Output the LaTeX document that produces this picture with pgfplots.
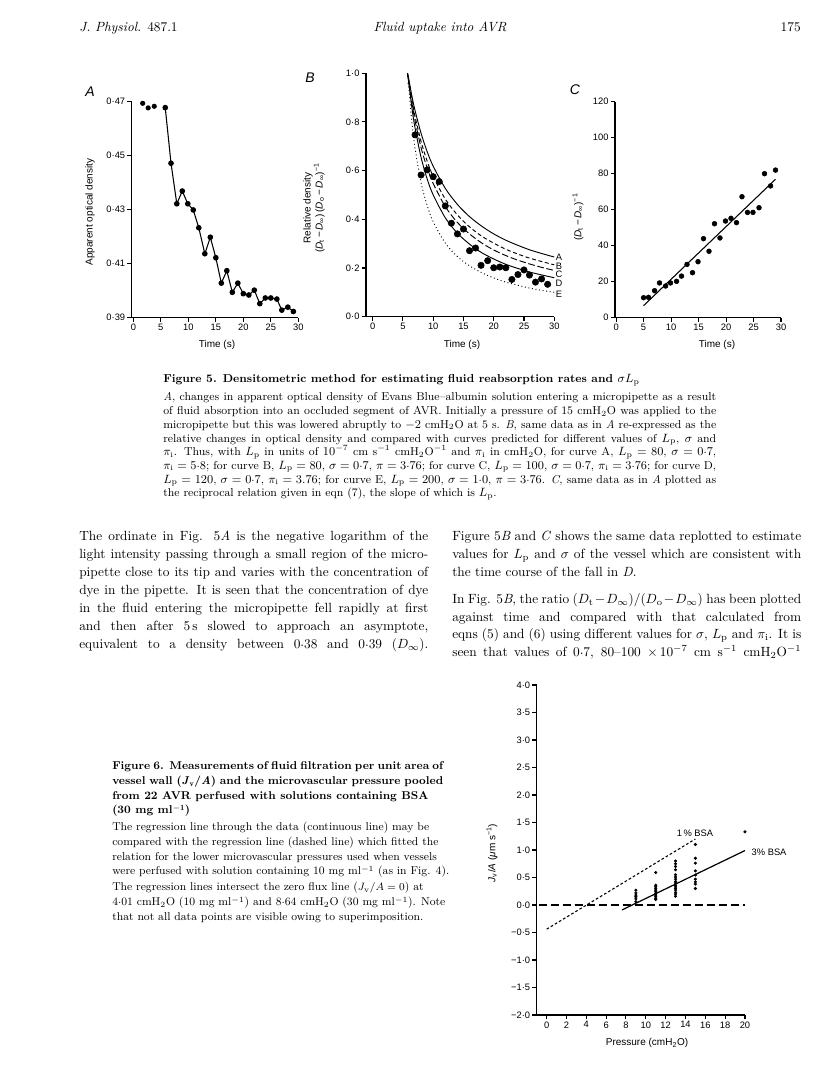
\documentclass[border=0pt]{standalone}
\usepackage{fontspec}
\newfontfamily\hv{Liberation Sans}
\usepackage{pgfplots}
\pgfplotsset{compat=1.18}
\def\body{\fontsize{10}{12}\selectfont}
\def\capf{\fontsize{8.6}{10}\selectfont}
\def\cappf{\fontsize{8.5}{10}\selectfont}
\def\tlf{\hv\fontsize{7}{8}\selectfont}
\def\lbf{\hv\fontsize{7.5}{9}\selectfont}
\newcommand\cd{\raisebox{0.42ex}{.}}
\newcommand\jl[4]{\node[anchor=base west,inner sep=0pt] at (#1,#2) {\makebox[#3][s]{#4}};}
\newcommand\nl[3]{\node[anchor=base west,inner sep=0pt] at (#1,#2) {#3};}
\pgfplotsset{scan/.style={scale only axis, axis lines=left,
  axis line style={line width=1.1pt,-}, every tick/.style={black,line width=0.8pt},
  tick align=outside, major tick length=3.2pt,
  ticklabel style={font=\tlf, inner sep=1.5pt}, clip=false}}
\begin{document}
\begin{tikzpicture}[x=0.75pt,y=0.75pt]
\fill[white] (0,0) rectangle (816,1088);
\path[use as bounding box] (0,0) rectangle (816,1088);

% ---------- header
\node[anchor=base west,inner sep=0pt,font=\body] at (79,1056) {\textit{J. Physiol.} 487.1};
\node[anchor=base,inner sep=0pt,font=\body\itshape] at (440,1056) {Fluid uptake into AVR};
\node[anchor=base east,inner sep=0pt,font=\body] at (801,1056) {175};

% ---------- Figure 5A
\begin{axis}[scan, at={(98.775pt,577.725pt)}, anchor=south west, width=124.95pt, height=162pt,
  xmin=-0.3, xmax=30, ymin=0.39, ymax=0.47,
  xtick={0,5,10,15,20,25,30}, xticklabels={0,5,10,15,20,25,30},
  ytick={0.39,0.41,0.43,0.45,0.47}, yticklabels={0·39,0·41,0·43,0·45,0·47}]
\addplot[only marks, mark=*, mark size=1.7pt] coordinates {(1.7,0.4694) (2.7,0.4677) (3.8,0.4683)};
\addplot[line width=0.8pt, mark=*, mark size=1.7pt] coordinates {
(5.8,0.4678) (6.85,0.4472) (7.9,0.4322) (8.9,0.4369) (9.9,0.4322) (10.9,0.4299)
(11.9,0.4233) (13.0,0.4137) (14.0,0.4198) (15.0,0.4122) (16.0,0.4028) (17.0,0.4074)
(18.0,0.3994) (19.0,0.4028) (20.0,0.3989) (21.0,0.3984) (22.0,0.4002) (23.0,0.3952)
(24.0,0.3973) (25.0,0.3973) (26.1,0.3969) (27.0,0.3928) (28.1,0.3939) (29.1,0.3923)};
\end{axis}
\node[font=\hv\itshape\fontsize{10.5}{12}\selectfont] at (90,996) {A};
\node[rotate=90,font=\lbf] at (90,876) {Apparent optical density};
\node[font=\lbf] at (217,743) {Time (s)};

% ---------- Figure 5B
\begin{axis}[scan, at={(274.5pt,578.475pt)}, anchor=south west, width=141.2pt, height=182.6pt,
  xmin=-1.1, xmax=30, ymin=0, ymax=1,
  xtick={0,5,10,15,20,25,30}, xticklabels={0,5,10,15,20,25,30},
  ytick={0,0.2,0.4,0.6,0.8,1.0}, yticklabels={0·0,0·2,0·4,0·6,0·8,1·0}]
% curve A
\addplot[smooth, line width=0.7pt] coordinates {(5.75,1.0) (6.0,0.971) (6.5,0.904) (7,0.847) (8,0.753) (9,0.678) (10,0.618) (12,0.527) (14,0.461) (16,0.411) (18,0.372) (20,0.340) (22,0.314) (24,0.293) (26,0.274) (28,0.259) (30,0.245)};
% curve B
\addplot[smooth, line width=0.7pt, dash pattern=on 3pt off 2pt] coordinates {(5.75,1.0) (6.0,0.965) (6.5,0.888) (7,0.823) (8,0.719) (9,0.639) (10,0.576) (12,0.483) (14,0.418) (16,0.369) (18,0.331) (20,0.302) (22,0.277) (24,0.257) (26,0.240) (28,0.226) (30,0.213)};
% curve C
\addplot[smooth, line width=0.7pt, dash pattern=on 5pt off 2pt] coordinates {(5.75,1.0) (6.0,0.961) (6.5,0.876) (7,0.805) (8,0.694) (9,0.611) (10,0.547) (12,0.452) (14,0.387) (16,0.340) (18,0.303) (20,0.274) (22,0.251) (24,0.232) (26,0.216) (28,0.202) (30,0.190)};
% curve D
\addplot[smooth, line width=0.7pt] coordinates {(5.75,1.0) (6.0,0.953) (6.5,0.855) (7,0.775) (8,0.654) (9,0.566) (10,0.500) (12,0.406) (14,0.343) (16,0.298) (18,0.263) (20,0.237) (22,0.215) (24,0.198) (26,0.183) (28,0.171) (30,0.160)};
% curve E
\addplot[smooth, line width=0.7pt, dotted] coordinates {(5.85,0.96) (6.0,0.931) (6.5,0.793) (7,0.692) (8,0.550) (9,0.457) (10,0.390) (12,0.302) (14,0.247) (16,0.209) (18,0.181) (20,0.159) (22,0.142) (24,0.129) (26,0.117) (28,0.108) (30,0.100)};
\addplot[only marks, mark=*, mark size=2.4pt] coordinates {
(7.0,0.747) (8.0,0.582) (9.0,0.603) (10,0.575) (11.0,0.555) (12.0,0.455) (13,0.384)
(14,0.340) (15,0.360) (16,0.271) (17,0.282) (17.9,0.211) (19,0.230) (20,0.201)
(21,0.204) (22,0.201) (23,0.153) (24,0.173) (25,0.192) (25.9,0.171) (26.9,0.142)
(27.9,0.155) (28.9,0.133)};
\end{axis}
\node[font=\hv\itshape\fontsize{10.5}{12}\selectfont] at (310,1010) {B};
\node[rotate=90,font=\lbf,align=center] at (314,880) {Relative density\\(\textit{D}\textsubscript{t}\,−\,\textit{D}\textsubscript{∞})\,(\textit{D}\textsubscript{o}\,−\,\textit{D}\textsubscript{∞})\textsuperscript{−1}};
\node[font=\lbf] at (462,743) {Time (s)};
\node[font=\tlf] at (559,831) {A};
\node[font=\tlf] at (559,822) {B};
\node[font=\tlf] at (559,813.7) {C};
\node[font=\tlf] at (559,804.7) {D};
\node[font=\tlf] at (559,794) {E};

% ---------- Figure 5C
\begin{axis}[scan, at={(461.25pt,577.725pt)}, anchor=south west, width=124.5pt, height=162pt,
  xmin=-0.2, xmax=30, ymin=0, ymax=120,
  xtick={0,5,10,15,20,25,30}, xticklabels={0,5,10,15,20,25,30},
  ytick={0,20,40,60,80,100,120}, yticklabels={0,20,40,60,80,100,120}]
\addplot[line width=0.8pt] coordinates {(5,6.7) (29,76.9)};
\addplot[only marks, mark=*, mark size=1.8pt] coordinates {
(5.0,11.1) (5.9,11.3) (7.0,15.0) (7.9,19.3) (9.0,17.6) (9.9,19.3) (11.0,20.2)
(11.9,23.1) (12.9,29.6) (13.9,25.0) (14.9,31.1) (15.9,43.9) (16.9,36.9) (17.9,52.2)
(18.9,44.3) (19.9,53.7) (20.9,55.2) (21.9,52.8) (22.9,67.2) (23.9,58.5) (24.9,58.5)
(26.0,61.1) (27.0,80.0) (28.1,73.2) (29.0,82.0)};
\end{axis}
\node[font=\hv\itshape\fontsize{10.5}{12}\selectfont] at (575,998) {C};
\node[rotate=90,font=\lbf] at (578,871) {(\textit{D}\textsubscript{t}\,−\,\textit{D}\textsubscript{∞})\textsuperscript{−1}};
\node[font=\lbf] at (717,743) {Time (s)};

% ---------- Figure 5 caption (x 163 to 716)
\nl{163}{705}{\capf\bfseries Figure 5. Densitometric method for estimating fluid reabsorption rates and $\sigma L_\mathrm{p}$}
\jl{163}{687}{414.75pt}{\capf\textit{A}, changes in apparent optical density of Evans Blue--albumin solution entering a micropipette as a result}
\jl{163}{673.3}{414.75pt}{\capf of fluid absorption into an occluded segment of AVR. Initially a pressure of 15 cmH$_2$O was applied to the}
\jl{163}{659.6}{414.75pt}{\capf micropipette but this was lowered abruptly to $-2$ cmH$_2$O at 5 s. \textit{B}, same data as in \textit{A} re-expressed as the}
\jl{163}{645.9}{414.75pt}{\capf relative changes in optical density and compared with curves predicted for different values of $L_\mathrm{p}$, $\sigma$ and}
\jl{163}{632.2}{414.75pt}{\capf $\pi_\mathrm{i}$. Thus, with $L_\mathrm{p}$ in units of $10^{-7}$ cm s$^{-1}$ cmH$_2$O$^{-1}$ and $\pi_\mathrm{i}$ in cmH$_2$O, for curve A, $L_\mathrm{p}=80$, $\sigma=0$\cd$7$,}
\jl{163}{618.5}{414.75pt}{\capf $\pi_\mathrm{i}=5$\cd$8$; for curve B, $L_\mathrm{p}=80$, $\sigma=0$\cd$7$, $\pi=3$\cd$76$; for curve C, $L_\mathrm{p}=100$, $\sigma=0$\cd$7$, $\pi_\mathrm{i}=3$\cd$76$; for curve D,}
\jl{163}{604.8}{414.75pt}{\capf $L_\mathrm{p}=120$, $\sigma=0$\cd$7$, $\pi_\mathrm{i}=3.76$; for curve E, $L_\mathrm{p}=200$, $\sigma=1$\cd$0$, $\pi=3$\cd$76$. \textit{C}, same data as in \textit{A} plotted as}
\nl{163}{591.1}{\capf the reciprocal relation given in eqn (7), the slope of which is $L_\mathrm{p}$.}

% ---------- body text, left column
\jl{79}{547}{261.75pt}{\body The ordinate in Fig. 5\textit{A} is the negative logarithm of the}
\jl{79}{529}{261.75pt}{\body light intensity passing through a small region of the micro-}
\jl{79}{511}{261.75pt}{\body pipette close to its tip and varies with the concentration of}
\jl{79}{493}{261.75pt}{\body dye in the pipette. It is seen that the concentration of dye}
\jl{79}{475}{261.75pt}{\body in the fluid entering the micropipette fell rapidly at first}
\jl{79}{457}{261.75pt}{\body and then after 5\,s slowed to approach an asymptote,}
\jl{79}{439}{261.75pt}{\body equivalent to a density between 0\cd38 and 0\cd39 ($D_\infty$).}
% ---------- body text, right column
\jl{452}{547}{261.75pt}{\body Figure 5\textit{B} and \textit{C} shows the same data replotted to estimate}
\jl{452}{529}{261.75pt}{\body values for $L_\mathrm{p}$ and $\sigma$ of the vessel which are consistent with}
\nl{452}{511}{\body the time course of the fall in \textit{D}.}
\jl{452}{484}{261.75pt}{\body In Fig. 5\textit{B}, the ratio $(D_\mathrm{t}-D_\infty)/(D_\mathrm{o}-D_\infty)$ has been plotted}
\jl{452}{466.5}{261.75pt}{\body against time and compared with that calculated from}
\jl{452}{449}{261.75pt}{\body eqns (5) and (6) using different values for $\sigma$, $L_\mathrm{p}$ and $\pi_\mathrm{i}$. It is}
\jl{452}{431.5}{261.75pt}{\body seen that values of 0\cd7, 80--100 $\times\,10^{-7}$ cm s$^{-1}$ cmH$_2$O$^{-1}$}

% ---------- Figure 6 caption
\jl{112}{318}{248.25pt}{\cappf\bfseries Figure 6. Measurements of fluid filtration per unit area of}
\jl{112}{303}{248.25pt}{\cappf\bfseries vessel wall (\textit{J}$_\mathbf{v}$/\textit{A}) and the microvascular pressure pooled}
\nl{112}{288}{\cappf\bfseries from 22 AVR perfused with solutions containing BSA}
\nl{112}{274}{\cappf\bfseries (30 mg ml$^{\mathbf{-1}}$)}
\nl{112}{257}{\cappf The regression line through the data (continuous line) may be}
\nl{112}{242}{\cappf compared with the regression line (dashed line) which fitted the}
\nl{112}{227}{\cappf relation for the lower microvascular pressures used when vessels}
\nl{112}{213}{\cappf were perfused with solution containing 10 mg ml$^{-1}$ (as in Fig. 4).}
\nl{112}{197}{\cappf The regression lines intersect the zero flux line ($J_\mathrm{v}/A=0$) at}
\nl{112}{182}{\cappf 4\cd01 cmH$_2$O (10 mg ml$^{-1}$) and 8\cd64 cmH$_2$O (30 mg ml$^{-1}$). Note}
\nl{112}{167}{\cappf that not all data points are visible owing to superimposition.}

% ---------- Figure 6 chart
\begin{axis}[scan, at={(402.525pt,54.75pt)}, anchor=south west, width=156.2pt, height=247.5pt,
  xmin=-1, xmax=20, ymin=-2, ymax=4,
  xtick={0,2,4,6,8,10,12,14,16,18,20}, xticklabels={0,2,4,6,8,10,12,14,16,18,20},
  ytick={-2,-1.5,-1,-0.5,0,0.5,1,1.5,2,2.5,3,3.5,4},
  yticklabels={−2·0,−1·5,−1·0,−0·5,0·0,0·5,1·0,1·5,2·0,2·5,3·0,3·5,4·0}]
\addplot[line width=0.8pt, dash pattern=on 6pt off 3pt] coordinates {(-0.8,0) (20,0)};
\addplot[line width=0.8pt, dash pattern=on 2pt off 1.6pt] coordinates {(0,-0.44) (15,1.2)};
\addplot[line width=0.9pt] coordinates {(7.6,-0.09) (20,0.99)};
\addplot[only marks, mark=*, mark size=0.95pt] coordinates {
(9,0.27) (9,0.22) (9,0.18) (9,0.15) (9,0.11) (9,0.06)
(11,0.59) (11,0.36) (11,0.33) (11,0.30) (11,0.27) (11,0.24) (11,0.21) (11,0.18) (11,0.15) (11,0.12) (11,0.10)
(13,0.80) (13,0.75) (13,0.70) (13,0.64) (13,0.55) (13,0.51) (13,0.47) (13,0.43) (13,0.40) (13,0.36) (13,0.33) (13,0.30) (13,0.27) (13,0.23) (13,0.20) (13,0.16)
(15,1.10) (15,0.85) (15,0.76) (15,0.62) (15,0.545) (15,0.47) (15,0.42) (15,0.38) (15,0.30)
(20,1.33)};
\end{axis}
\node[font=\tlf] at (695,255) {1\,\% BSA};
\node[font=\tlf,anchor=west] at (747,236) {3\% BSA};
\node[rotate=90,font=\lbf] at (492,235) {\textit{J}\textsubscript{v}/\textit{A} (\textit{μ}m s\textsuperscript{−1})};
\node[font=\lbf] at (647,45) {Pressure (cmH\textsubscript{2}O)};
\end{tikzpicture}
\end{document}
